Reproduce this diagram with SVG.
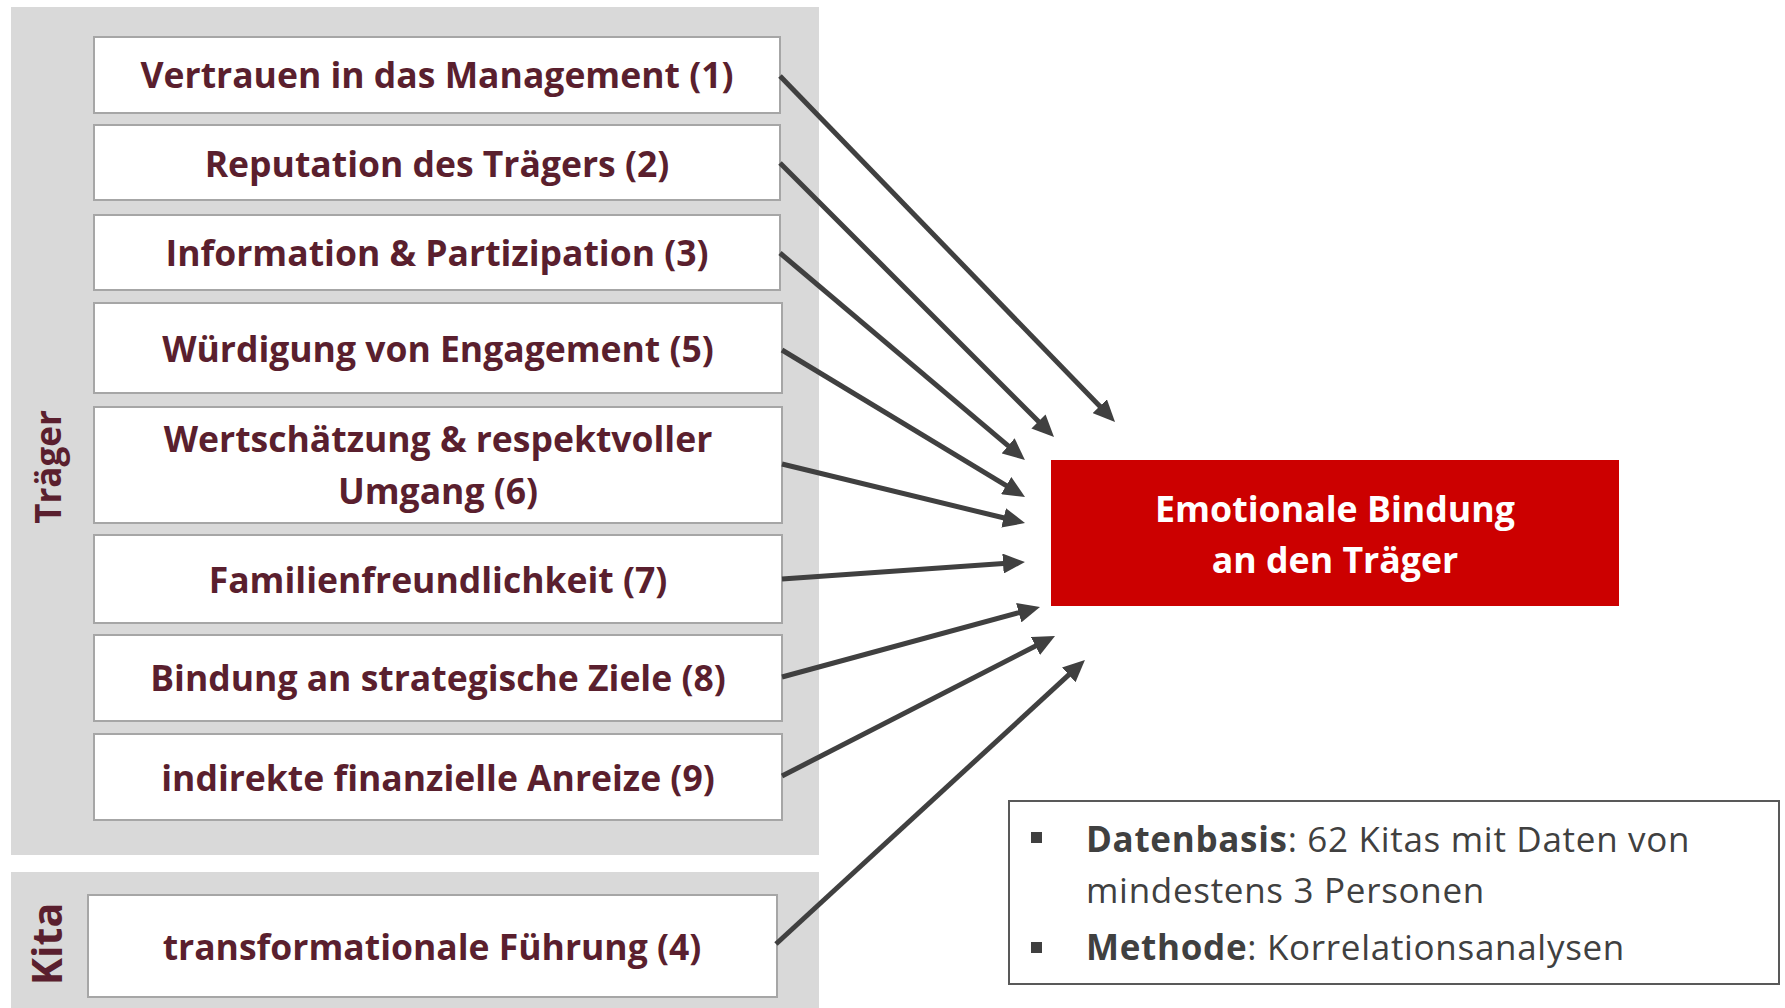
<svg xmlns="http://www.w3.org/2000/svg" width="1785" height="1008" viewBox="0 0 1785 1008">
  <style>
    .panel { fill: #d9d9d9; }
    .box { fill: #ffffff; stroke: #a6a6a6; stroke-width: 2; }
    .lbl { font-family: "Open Sans", "Liberation Sans", sans-serif; font-weight: 700; font-size: 35.5px; fill: #5a1f2e; text-anchor: middle; }
    .side { font-family: "Open Sans", "Liberation Sans", sans-serif; font-weight: 700; font-size: 35px; fill: #5a1f2e; text-anchor: middle; }
    .side.big { font-size: 41px; }
    .target { fill: #cc0000; }
    .ttxt { font-family: "Open Sans", "Liberation Sans", sans-serif; font-weight: 700; font-size: 35.7px; fill: #ffffff; text-anchor: middle; }
    .info { fill: #ffffff; stroke: #595959; stroke-width: 2; }
    .itxt { font-family: "Open Sans", "Liberation Sans", sans-serif; font-size: 35px; letter-spacing: 0.7px; fill: #404040; }
    .conn line { stroke: #404040; stroke-width: 5; marker-end: url(#ah); }
  </style>
  <defs>
    <marker id="ah" markerUnits="userSpaceOnUse" markerWidth="22" markerHeight="20" viewBox="0 0 22 20" refX="4" refY="10" orient="auto">
      <path d="M0,0 L22,10 L0,20 z" fill="#404040"/>
    </marker>
  </defs>

  <g id="panel-traeger">
    <rect class="panel" x="11" y="7" width="808" height="848"/>
    <text class="side" transform="translate(61,467) rotate(-90)">Träger</text>
  </g>
  <g id="panel-kita">
    <rect class="panel" x="11" y="872" width="808" height="136"/>
    <text class="side big" transform="translate(62,944) rotate(-90)">Kita</text>
  </g>

  <g id="n1">
    <rect class="box" x="94" y="37" width="686" height="76"/>
    <text class="lbl" x="437" y="88">Vertrauen in das Management (1)</text>
  </g>
  <g id="n2">
    <rect class="box" x="94" y="125" width="686" height="75"/>
    <text class="lbl" x="437" y="177">Reputation des Trägers (2)</text>
  </g>
  <g id="n3">
    <rect class="box" x="94" y="215" width="686" height="75"/>
    <text class="lbl" x="437" y="266">Information &amp; Partizipation (3)</text>
  </g>
  <g id="n5">
    <rect class="box" x="94" y="303" width="688" height="90"/>
    <text class="lbl" x="438" y="362">Würdigung von Engagement (5)</text>
  </g>
  <g id="n6">
    <rect class="box" x="94" y="407" width="688" height="116"/>
    <text class="lbl" x="438" y="452">Wertschätzung &amp; respektvoller</text>
    <text class="lbl" x="438" y="504">Umgang (6)</text>
  </g>
  <g id="n7">
    <rect class="box" x="94" y="535" width="688" height="88"/>
    <text class="lbl" x="438" y="593">Familienfreundlichkeit (7)</text>
  </g>
  <g id="n8">
    <rect class="box" x="94" y="635" width="688" height="86"/>
    <text class="lbl" x="438" y="691">Bindung an strategische Ziele (8)</text>
  </g>
  <g id="n9">
    <rect class="box" x="94" y="734" width="688" height="86"/>
    <text class="lbl" x="438" y="791">indirekte finanzielle Anreize (9)</text>
  </g>
  <g id="n4">
    <rect class="box" x="88" y="895" width="689" height="102"/>
    <text class="lbl" x="432" y="960">transformationale Führung (4)</text>
  </g>

  <g id="target">
    <rect class="target" x="1051" y="460" width="568" height="146"/>
    <text class="ttxt" x="1335" y="522">Emotionale Bindung</text>
    <text class="ttxt" x="1335" y="573">an den Träger</text>
  </g>

  <g id="info">
    <rect class="info" x="1009" y="801" width="770" height="183"/>
    <rect x="1031" y="832" width="11" height="11" fill="#404040"/>
    <rect x="1031" y="942" width="11" height="11" fill="#404040"/>
    <text class="itxt" x="1086" y="852"><tspan font-weight="700">Datenbasis</tspan>: 62 Kitas mit Daten von</text>
    <text class="itxt" x="1086" y="903">mindestens 3 Personen</text>
    <text class="itxt" x="1086" y="960"><tspan font-weight="700">Methode</tspan>: Korrelationsanalysen</text>
  </g>

  <g id="connectors" class="conn">
    <line x1="780" y1="76" x2="1102.5" y2="409.1"/>
    <line x1="780" y1="163" x2="1041.3" y2="424.3"/>
    <line x1="780" y1="253" x2="1011.2" y2="448.4"/>
    <line x1="782" y1="350" x2="1009.6" y2="487.7"/>
    <line x1="782" y1="464" x2="1007.5" y2="518.8"/>
    <line x1="782" y1="579" x2="1007.0" y2="563.3"/>
    <line x1="782" y1="677" x2="1022.6" y2="611.7"/>
    <line x1="782" y1="776" x2="1039.0" y2="644.2"/>
    <line x1="776" y1="944" x2="1071.7" y2="672.2"/>
  </g>
</svg>
